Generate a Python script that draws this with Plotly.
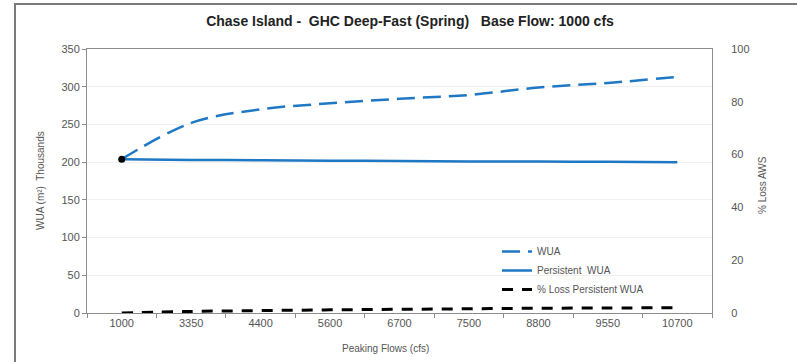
import plotly.graph_objects as go

flows = ["1000", "3350", "4400", "5600", "6700", "7500", "8800", "9550", "10700"]
wua = [204, 252, 270, 278, 284, 289, 299, 305, 313]
persistent_wua = [204, 203, 202.5, 202, 201.5, 201, 200.8, 200.5, 200]
pct_loss = [0, 0.6, 0.9, 1.2, 1.4, 1.6, 1.8, 1.9, 2.0]

BLUE = "#1f78c4"
AX = "#8c8c8c"
TICKF = dict(family="Liberation Sans, Arial", size=11, color="#555555")

fig = go.Figure()
fig.add_trace(go.Scatter(x=flows, y=wua, name="WUA", mode="lines",
                         line=dict(color=BLUE, width=2.5, dash="18px,8px", shape="spline")))
fig.add_trace(go.Scatter(x=flows, y=persistent_wua, name="Persistent  WUA", mode="lines",
                         line=dict(color=BLUE, width=2.5, shape="spline")))
fig.add_trace(go.Scatter(x=flows, y=pct_loss, name="% Loss Persistent WUA", mode="lines",
                         yaxis="y2", line=dict(color="black", width=3, dash="11px,9px",
                                               shape="spline")))
fig.add_trace(go.Scatter(x=flows[:1], y=wua[:1], mode="markers", showlegend=False,
                         marker=dict(color="black", size=7)))

L, R, T, B = 87, 712, 49, 313
W, H = 797, 362

def px_x(p):
    return (p - L) / (R - L)

def px_y(p):
    return (B - p) / (B - T)

fig.update_layout(
    width=W, height=H,
    margin=dict(l=L, r=W - R, t=T, b=H - B),
    paper_bgcolor="white", plot_bgcolor="white",
    font=dict(family="Liberation Sans, Arial", size=10, color="#444444"),
    title=dict(text="<b>Chase Island -  GHC Deep-Fast (Spring)   Base Flow: 1000 cfs</b>",
               x=410 / W, xanchor="center", y=1 - 21 / H, yanchor="middle",
               font=dict(family="Liberation Sans, Arial", size=14, color="#222222")),
    xaxis=dict(type="category", range=[-0.5, len(flows) - 0.5],
               showline=True, linecolor=AX, linewidth=1, mirror=True,
               ticks="outside", tickson="boundaries", ticklen=4, tickcolor=AX,
               tickfont=TICKF, showgrid=False, zeroline=False),
    yaxis=dict(range=[0, 350], dtick=50, showline=True, linecolor=AX, linewidth=1,
               ticks="outside", ticklen=4, tickcolor=AX, tickfont=TICKF,
               showgrid=True, gridcolor="#f0f0f0", zeroline=False),
    yaxis2=dict(range=[0, 100], dtick=20, overlaying="y", side="right",
                showline=True, linecolor=AX, linewidth=1, ticks="",
                ticklabelstandoff=16, tickfont=TICKF, showgrid=False, zeroline=False),
    legend=dict(x=px_x(497), y=px_y(237), xanchor="left", yanchor="top",
                bgcolor="rgba(0,0,0,0)", font=dict(size=10, color="#555555"),
                tracegroupgap=0, itemwidth=30),
    showlegend=True,
)

fig.add_annotation(text="Peaking Flows (cfs)", xref="paper", yref="paper",
                   x=px_x(385), y=px_y(349), xanchor="center", yanchor="middle",
                   showarrow=False, font=dict(size=10, color="#555555"))
fig.add_annotation(text="WUA (m²)  Thousands", xref="paper", yref="paper",
                   x=px_x(40), y=px_y(181), xanchor="center", yanchor="middle",
                   showarrow=False, textangle=-90,
                   font=dict(size=10, color="#555555"))
fig.add_annotation(text="% Loss AWS", xref="paper", yref="paper",
                   x=px_x(762), y=px_y(185), xanchor="center", yanchor="middle",
                   showarrow=False, textangle=-90,
                   font=dict(size=10, color="#555555"))

fig.add_shape(type="rect", xref="paper", yref="paper",
              x0=px_x(15), x1=px_x(805), y0=px_y(370), y1=px_y(4),
              line=dict(color="#7a7a7a", width=2), layer="below")

fig.write_html("out.html")
